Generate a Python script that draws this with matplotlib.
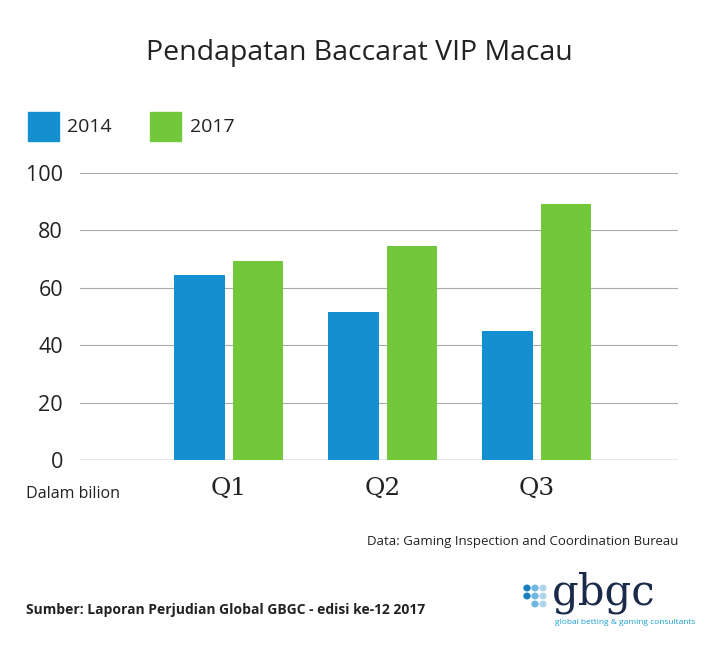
import matplotlib
matplotlib.use("Agg")
import matplotlib.pyplot as plt
import numpy as np

categories = ["Q1", "Q2", "Q3"]
series_names = ["2014", "2017"]
values_2014 = [64.5, 51.5, 44.8]
values_2017 = [69.3, 74.5, 89.2]
yticks = [0, 20, 40, 60, 80, 100]

plt.rcParams["font.family"] = "Open Sans"
fig = plt.figure(figsize=(7.18, 6.6), dpi=100)
ax = fig.add_axes([0.111, 0.303, 0.833, 0.435])
x = np.arange(len(categories))
c1, c2 = "#1490d0", "#72c83a"
ax.bar(x - 0.19, values_2014, 0.325, color=c1, zorder=3)
ax.bar(x + 0.19, values_2017, 0.325, color=c2, zorder=3)
ax.set_xlim(-0.968, 2.916)
ax.set_ylim(0, 100)
ax.set_yticks(yticks)
ax.set_yticklabels([str(t) for t in yticks], fontsize=15.5, color="#222")
ax.tick_params(axis="y", length=0, pad=12)
ax.set_xticks(x)
ax.set_xticklabels(categories, fontsize=18, color="#222", family="DejaVu Serif")
ax.tick_params(axis="x", length=0, pad=12)
ax.grid(axis="y", color="#aaaaaa", linewidth=0.8, zorder=0)
for s in ax.spines.values():
    s.set_visible(False)
ax.axhline(0, color="#999999", linewidth=1, zorder=0)

fig.text(0.5, 0.92, "Pendapatan Baccarat VIP Macau", ha="center", va="center", fontsize=20.5, color="#222")
fig.patches.append(plt.Rectangle((28/718, 1-141/660), 31/718, 29/660, transform=fig.transFigure, color=c1))
fig.text(67/718, 1-127/660, series_names[0], fontsize=14, va="center", color="#222")
fig.patches.append(plt.Rectangle((150/718, 1-141/660), 31/718, 29/660, transform=fig.transFigure, color=c2))
fig.text(190/718, 1-127/660, series_names[1], fontsize=14, va="center", color="#222")

fig.text(26/718, 1-494/660, "Dalam bilion", fontsize=11.5, va="center", color="#222")
fig.text(678/718, 1-541/660, "Data: Gaming Inspection and Coordination Bureau", fontsize=9.5, ha="right", va="center", color="#222")
fig.text(26/718, 1-610/660, "Sumber: Laporan Perjudian Global GBGC - edisi ke-12 2017", fontsize=10, fontweight="bold", va="center", color="#222")
for i, (dx, dy) in enumerate([(0,0),(1,0),(2,0),(0,1),(1,1),(2,1),(1,2),(2,2)]):
    fig.patches.append(plt.Circle(((527+dx*8)/718, 1-(588+dy*8)/660), 3/718, transform=fig.transFigure,
                                  color=["#1a7fbf", "#6fb7de", "#b0d4ea"][dx]))
fig.text(552/718, 1-593/660, "gbgc", fontsize=30, va="center", color="#1a2a4a", family="DejaVu Serif")
fig.text(555/718, 1-622/660, "global betting & gaming consultants", fontsize=6, va="center", color="#1a9fd0")
fig.savefig("out.png", dpi=100, facecolor="white")
